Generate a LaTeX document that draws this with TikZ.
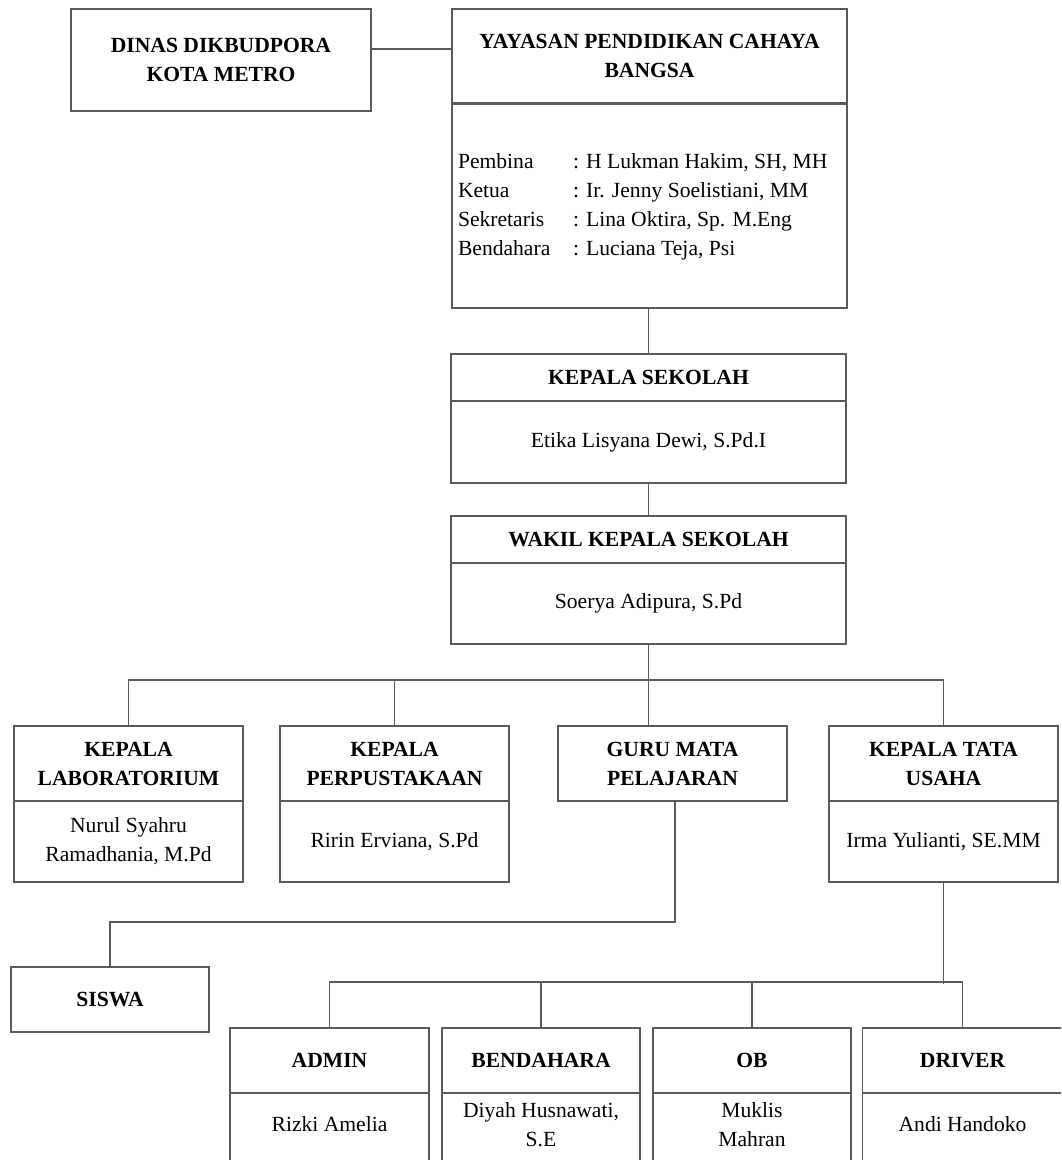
\documentclass[tikz,border=0pt]{standalone}
\usepackage{fontspec}
\setmainfont{Liberation Serif}
\usetikzlibrary{calc}
\definecolor{abu}{RGB}{90, 90, 90}
\newcommand{\naik}[1]{\vbox{\hbox{\begin{tabular}{@{}c@{}}#1\end{tabular}}\vskip7.5pt}}

\tikzset{
  kotak/.style={draw=abu, line width=0.8pt, align=center, inner sep=0pt,
    font=\fontsize{10.8pt}{14.5pt}\selectfont},
  judul/.style={kotak, font=\fontsize{10.8pt}{14.5pt}\selectfont\bfseries},
  garis/.style={draw=abu, line width=0.8pt}
}

\begin{document}
\begin{tikzpicture}[x=0.5pt, y=-0.5pt]
    \useasboundingbox (0,0) rectangle (1061,1160);
    \clip (0,0) rectangle (1061,1160);

    %Dinas dan yayasan
    \node[judul, minimum width=150pt, minimum height=51pt] (dinas) at (221,60) {DINAS DIKBUDPORA\\KOTA METRO};
    \node[judul, minimum width=197.5pt, minimum height=47pt] (yayasan) at (649.5,56) {YAYASAN PENDIDIKAN CAHAYA\\BANGSA};
    \node[kotak, minimum width=197.5pt, minimum height=102pt, align=left] (yayasan-isi) at (649.5,206) {%
      \begin{tabular}{@{}p{57.5pt}@{}p{134pt}@{}}
        Pembina & : H Lukman Hakim, SH, MH\\
        Ketua & : Ir. Jenny Soelistiani, MM\\
        Sekretaris & : Lina Oktira, Sp. M.Eng\\
        Bendahara & : Luciana Teja, Psi
      \end{tabular}};

    %Kepala sekolah dan wakil
    \node[judul, minimum width=197.5pt, minimum height=23.5pt] (kepsek) at (648.5,377.5) {KEPALA SEKOLAH};
    \node[kotak, minimum width=197.5pt, minimum height=41pt] (kepsek-nama) at (648.5,442) {Etika Lisyana Dewi, S.Pd.I};
    \node[judul, minimum width=197.5pt, minimum height=23.5pt] (wakil) at (648.5,539.5) {WAKIL KEPALA SEKOLAH};
    \node[kotak, minimum width=197.5pt, minimum height=40.5pt] (wakil-nama) at (648.5,603.5) {Soerya Adipura, S.Pd};

    %Baris tengah
    \node[judul, minimum width=114.5pt, minimum height=37.5pt] (lab) at (128.5,763.5) {KEPALA\\LABORATORIUM};
    \node[kotak, minimum width=114.5pt, minimum height=40.5pt] (lab-nama) at (128.5,841.5) {Nurul Syahru\\Ramadhania, M.Pd};
    \node[judul, minimum width=114.5pt, minimum height=37.5pt] (perpus) at (394.5,763.5) {KEPALA\\PERPUSTAKAAN};
    \node[kotak, minimum width=114.5pt, minimum height=40.5pt] (perpus-nama) at (394.5,841.5) {Ririn Erviana, S.Pd};
    \node[judul, minimum width=114.5pt, minimum height=37.5pt] (guru) at (672.5,763.5) {GURU MATA\\PELAJARAN};
    \node[judul, minimum width=114.5pt, minimum height=37.5pt] (tu) at (943.5,763.5) {KEPALA TATA\\USAHA};
    \node[kotak, minimum width=114.5pt, minimum height=40.5pt] (tu-nama) at (943.5,841.5) {Irma Yulianti, SE.MM};

    %Siswa
    \node[judul, minimum width=99pt, minimum height=32.5pt] (siswa) at (110,999.5) {SISWA};

    %Baris bawah
    \node[judul, minimum width=99.5pt, minimum height=32.5pt] (admin) at (329.5,1060.5) {ADMIN};
    \node[kotak, minimum width=99.5pt, minimum height=41pt] (admin-nama) at (329.5,1133.5) {\naik{Rizki Amelia}};
    \node[judul, minimum width=99pt, minimum height=32.5pt] (bendahara) at (541,1060.5) {BENDAHARA};
    \node[kotak, minimum width=99pt, minimum height=41pt] (bendahara-nama) at (541,1133.5) {\naik{Diyah Husnawati,\\S.E}};
    \node[judul, minimum width=99pt, minimum height=32.5pt] (ob) at (752,1060.5) {OB};
    \node[kotak, minimum width=99pt, minimum height=41pt] (ob-nama) at (752,1133.5) {\naik{Muklis\\Mahran}};
    \node[judul, minimum width=100pt, minimum height=32.5pt] (driver) at (962.5,1060.5) {DRIVER};
    \node[kotak, minimum width=100pt, minimum height=41pt] (driver-nama) at (962.5,1133.5) {\naik{Andi Handoko}};

    %Garis penghubung
    \draw[garis] ([yshift=5.5pt]dinas.east) -- ([yshift=5.5pt]dinas.east -| yayasan.west);
    \draw[garis] (kepsek.north |- yayasan-isi.south) -- (kepsek.north);
    \draw[garis] (kepsek-nama.south) -- (wakil.north);
    \draw[garis] (wakil-nama.south) -- (wakil-nama.south |- guru.north);
    \draw[garis] (lab.north) -- ++(0,22.5pt) -| (tu.north);
    \draw[garis] (perpus.north) -- ++(0,22.5pt);
    \draw[garis] ([xshift=1.25pt]guru.south) -- ++(0,-60pt) -| (siswa.north);
    \draw[garis] (tu-nama.south) -- ++(0,-50.5pt);
    \draw[garis] (admin.north) -- ++(0,22.5pt) -| (driver.north);
    \draw[garis] (bendahara.north) -- ++(0,22.5pt);
    \draw[garis] (ob.north) -- ++(0,22.5pt);
\end{tikzpicture}
\end{document}
